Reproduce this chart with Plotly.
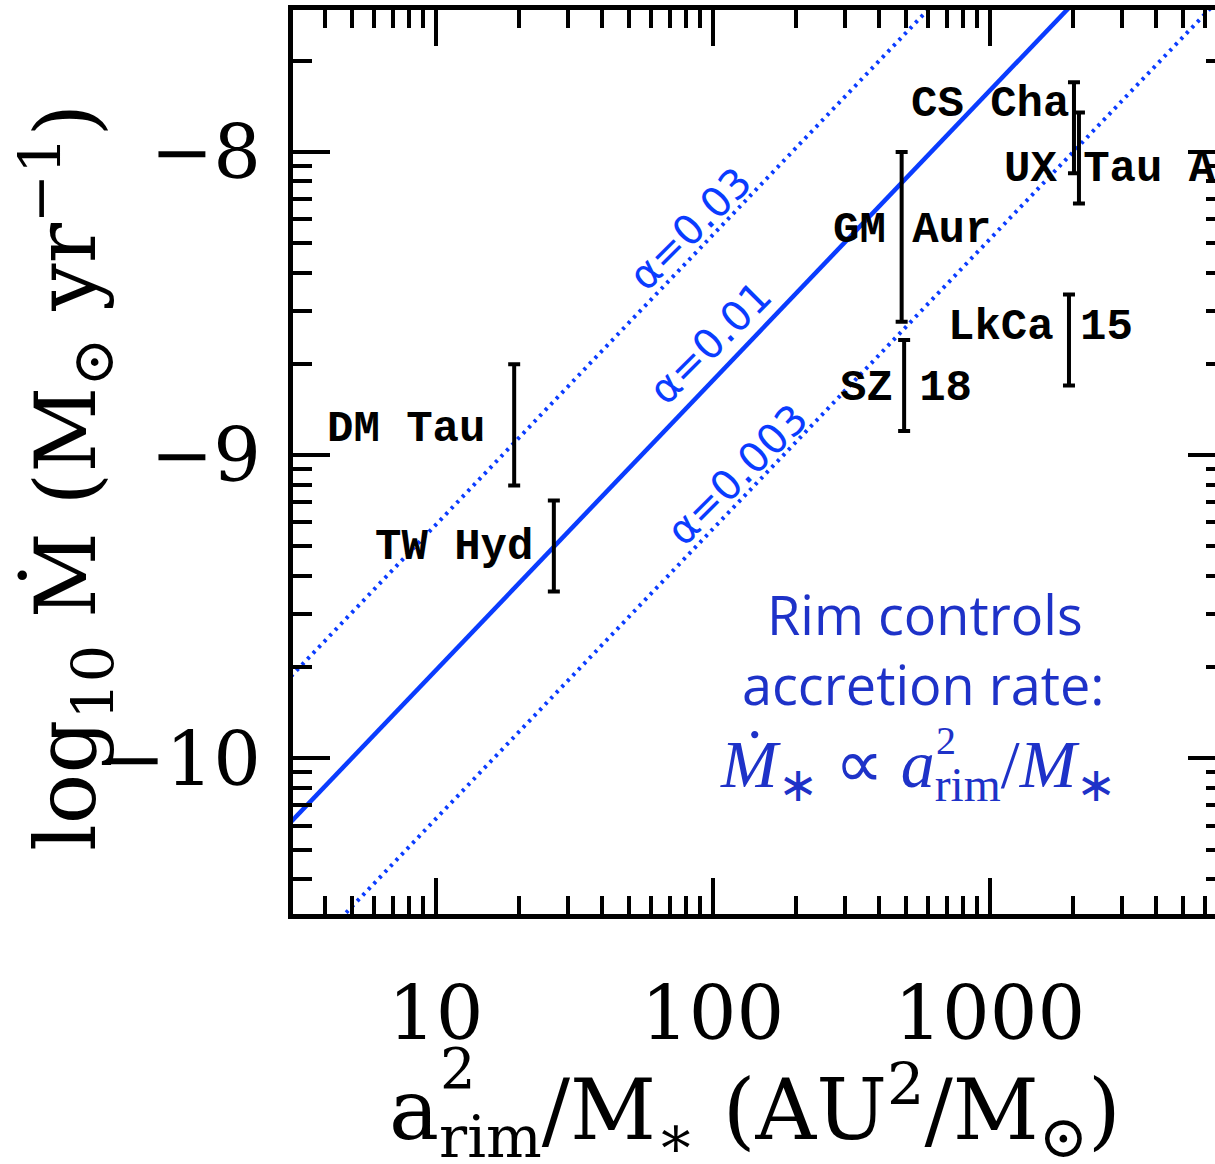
import numpy as np
import plotly.graph_objects as go

# ---------------- data ----------------
star_names = ["DM Tau", "TW Hyd", "GM Aur", "SZ 18", "LkCa 15", "CS Cha", "UX Tau A"]
rim_ratio = [19.2, 26.7, 481, 491, 1933, 2015, 2100]          # a_rim^2 / M_*  (AU^2 / Msun)
log_mdot_low = [-9.10, -9.45, -8.56, -8.92, -8.77, -8.07, -8.17]
log_mdot_high = [-8.70, -9.15, -8.00, -8.62, -8.47, -7.77, -7.87]

alpha_names = ["α=0.03", "α=0.01", "α=0.003"]
model_x = [3, 7000]
model_log_mdot_start = [-9.73, -10.21, -10.70]
model_log_mdot_end = [-6.51, -6.99, -7.48]
model_dash = ["3px,5px", "solid", "3px,5px"]

x_tick_vals = [10, 100, 1000]
x_tick_text = ["10", "100", "1000"]
y_tick_vals = [1e-10, 1e-9, 1e-8]
y_tick_text = ["\u221210", "\u22129", "\u22128"]

# ---------------- styling ----------------
W, H = 1215, 1164
L, R, T, B = 293, 0, 10, 250
PW, PH = W - L - R, H - T - B
BLUE = "#0a3cff"
TEXT_BLUE = "#1e32c8"
SERIF = "DejaVu Serif"
MONO = "Liberation Mono"
SANS = "DejaVu Sans"

# label offsets from each error bar centre, in pixels (right / down)
label_dx = [-108, -100, 10, 2, -28, -84, 31]
label_dy = [4, 1, -7, 3, -13, -24, 11]


def px(xp):
    return (xp - L) / PW


def py(yp):
    return (T + PH - yp) / PH


# minor tick positions (axis decoration)
x_minor = [m * 10 ** d for d in range(0, 4) for m in range(2, 10) if 3 < m * 10 ** d < 6600]
y_minor = [m * 10.0 ** d for d in range(-11, -7) for m in range(2, 10) if 3.1e-11 < m * 10.0 ** d < 2.9e-8]

fig = go.Figure()

# model lines
for name, s, e, dash in zip(alpha_names, model_log_mdot_start, model_log_mdot_end, model_dash):
    fig.add_trace(go.Scatter(
        x=model_x, y=[10 ** s, 10 ** e], mode="lines", name=name,
        line=dict(color=BLUE, width=4.5 if dash == "solid" else 4, dash=dash),
        hoverinfo="skip", showlegend=False))

# error bars
lo = np.array(log_mdot_low)
hi = np.array(log_mdot_high)
centre = 10 ** ((lo + hi) / 2)
fig.add_trace(go.Scatter(
    x=rim_ratio, y=centre, mode="markers",
    marker=dict(size=1, color="rgba(0,0,0,0)"),
    error_y=dict(type="data", symmetric=False, array=10 ** hi - centre,
                 arrayminus=centre - 10 ** lo, color="black", thickness=4, width=6),
    showlegend=False, hoverinfo="skip"))

# dummy trace for the right-hand tick axis
fig.add_trace(go.Scatter(x=[None], y=[None], yaxis="y2", showlegend=False, hoverinfo="skip"))

ann = []
# star labels
for i, name in enumerate(star_names):
    ann.append(dict(x=np.log10(rim_ratio[i]), y=(lo[i] + hi[i]) / 2, xref="x", yref="y",
                    text=name, showarrow=False, xanchor="center", yanchor="middle",
                    xshift=label_dx[i], yshift=-label_dy[i],
                    font=dict(family=MONO, size=44, color="black", weight="bold")))

# alpha labels along the lines
alpha_pos = [(690, 229), (710, 343), (737, 475)]
for name, (xp, yp) in zip(alpha_names, alpha_pos):
    ann.append(dict(x=px(xp), y=py(yp), xref="paper", yref="paper", text=name,
                    showarrow=False, textangle=-45, xanchor="center", yanchor="middle",
                    font=dict(family=SANS, size=41, color=BLUE)))

# explanatory text
ann.append(dict(x=px(925), y=py(614), xref="paper", yref="paper", text="Rim controls",
                showarrow=False, xanchor="center", yanchor="middle",
                font=dict(family="Open Sans", size=54, color=TEXT_BLUE)))
ann.append(dict(x=px(923), y=py(684), xref="paper", yref="paper", text="accretion rate:",
                showarrow=False, xanchor="center", yanchor="middle",
                font=dict(family="Open Sans", size=54, color=TEXT_BLUE)))
ann.append(dict(x=px(918), y=py(768), xref="paper", yref="paper",
                text="<i>Ṁ</i><sub>∗</sub> ∝ <i>a</i><sub>rim</sub>/<i>M</i><sub>∗</sub>",
                showarrow=False, xanchor="center", yanchor="middle",
                font=dict(family="Liberation Serif", size=68, color=TEXT_BLUE)))
ann.append(dict(x=px(946), y=py(740), xref="paper", yref="paper", text="2",
                showarrow=False, xanchor="center", yanchor="middle",
                font=dict(family="Liberation Serif", size=40, color=TEXT_BLUE)))

# axis titles
ann.append(dict(x=px(755), y=py(1110), xref="paper", yref="paper",
                text="a<sub>rim</sub>/M<sub>∗</sub> (AU<sup>2</sup>/M<sub>⊙</sub>)",
                showarrow=False, xanchor="center", yanchor="middle",
                font=dict(family=SERIF, size=84, color="black")))
ann.append(dict(x=px(458), y=py(1068), xref="paper", yref="paper", text="2",
                showarrow=False, xanchor="center", yanchor="middle",
                font=dict(family=SERIF, size=56, color="black")))
ann.append(dict(x=px(66), y=py(478), xref="paper", yref="paper",
                text="log<sub>10</sub> Ṁ (M<sub>⊙</sub> yr<sup>−1</sup>)",
                showarrow=False, textangle=-90, xanchor="center", yanchor="middle",
                font=dict(family=SERIF, size=84, color="black")))

fig.update_layout(
    width=W, height=H, margin=dict(l=L, r=R, t=T, b=B, autoexpand=False),
    plot_bgcolor="white", paper_bgcolor="white", showlegend=False,
    annotations=ann,
    xaxis=dict(type="log", range=[0.4848, 3.8134], showline=True, linewidth=5,
               linecolor="black", mirror="ticks", ticks="inside", ticklen=36,
               tickwidth=4, tickcolor="black", tickmode="array", tickvals=x_tick_vals,
               ticktext=x_tick_text, tickfont=dict(family=SERIF, size=75, color="black"),
               ticklabelstandoff=30, showgrid=False, zeroline=False,
               minor=dict(ticks="inside", ticklen=18, tickwidth=4, tickcolor="black",
                          tickmode="array", tickvals=x_minor, showgrid=False)),
    yaxis=dict(type="log", range=[-10.5135, -7.5317], showline=True, linewidth=5,
               linecolor="black", mirror=False, ticks="inside", ticklen=37,
               tickwidth=4, tickcolor="black", tickmode="array", tickvals=y_tick_vals,
               ticktext=y_tick_text, tickfont=dict(family=SERIF, size=75, color="black"),
               ticklabelstandoff=12, showgrid=False, zeroline=False,
               minor=dict(ticks="inside", ticklen=19, tickwidth=4, tickcolor="black",
                          tickmode="array", tickvals=y_minor, showgrid=False)),
    yaxis2=dict(type="log", range=[-10.5135, -7.5317], overlaying="y", side="right",
                anchor="x", showline=False, ticks="inside", ticklen=27, tickwidth=4,
                tickcolor="black", tickmode="array", tickvals=y_tick_vals,
                showticklabels=False, showgrid=False, zeroline=False,
                minor=dict(ticks="inside", ticklen=9, tickwidth=4, tickcolor="black",
                           tickmode="array", tickvals=y_minor, showgrid=False)),
)

fig.write_html("out.html", config={"displayModeBar": False},
               post_script="document.body.style.margin='0';document.body.style.overflow='hidden';")
